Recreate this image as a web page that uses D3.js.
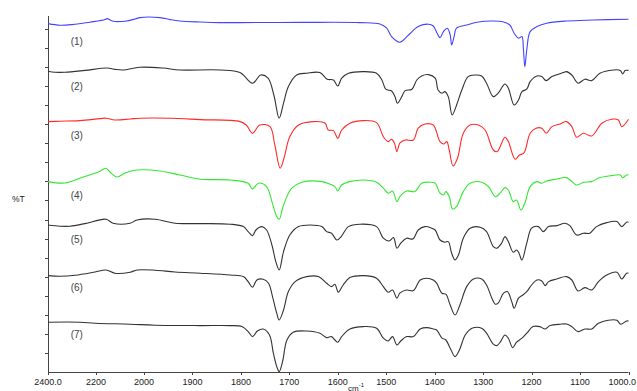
<!DOCTYPE html>
<html>
<head>
<meta charset="utf-8">
<script src="https://cdn.jsdelivr.net/npm/d3@7"></script>
<style>
  body { margin: 0; background: #fff; }
  svg { display: block; font-family: "Liberation Sans", Arial, sans-serif; }
</style>
</head>
<body>
<svg id="chart" width="637" height="391"></svg>
<script>
// wavenumber (cm-1), %T (stacked, arbitrary offset units)
const spectrum1 = [[2400,174.2],[2350,173.4],[2300,173.7],[2225,174.9],[2162,176.2],[2154,176.7],[2129,175.4],[2079,175.4],[2037,176.5],[2017,177.2],[1967,177.2],[1946,176.2],[1926,175.5],[1884,175],[1843,174.7],[1802,174.7],[1678,174.8],[1554,174.7],[1513,174],[1499,171.9],[1489,167.7],[1472,164.9],[1454,168.5],[1434,172.7],[1413,173.9],[1403,173],[1395,169.4],[1389,167.2],[1382,170.2],[1374,171.9],[1368,168.5],[1365,163.5],[1360,167.7],[1355,171.9],[1334,173.5],[1313,174.9],[1279,175.5],[1258,175],[1245,173.5],[1236,169.4],[1227,166.9],[1220,167.7],[1217,161.9],[1214,152.7],[1210,161],[1203,170.2],[1189,172.7],[1169,174.4],[1128,175.5],[1073,176],[1000,176.4]];
const spectrum2 = [[2400,150.4],[2371,149.9],[2329,149.9],[2246,150.8],[2154,152],[2121,151.3],[2087,151],[2017,152.4],[1961,152],[1926,151],[1843,151],[1802,149.7],[1776,144.4],[1759,148.5],[1744,146.9],[1732,138.5],[1721,126.9],[1712,134.4],[1702,142.7],[1685,148.5],[1664,149.4],[1637,149.7],[1622,146.4],[1609,146],[1600,143],[1592,146.9],[1578,149.4],[1547,150.2],[1520,149.4],[1509,146],[1501,141.4],[1489,140.5],[1482,137.7],[1477,134.4],[1468,137.7],[1461,140.7],[1447,141.4],[1437,146],[1427,148],[1413,148.7],[1399,146.9],[1393,141],[1385,139.4],[1379,140.2],[1372,137.7],[1364,128.5],[1356,132.7],[1344,141],[1331,147.7],[1317,148.5],[1303,148],[1293,144.4],[1279,137.7],[1269,139.4],[1255,144],[1248,141.9],[1236,133.5],[1227,136],[1220,140.2],[1210,141.4],[1203,145.2],[1189,148],[1179,147.7],[1170,145.7],[1158,147.7],[1134,149.7],[1128,150.2],[1117,148.5],[1104,144.4],[1090,146.4],[1076,145.7],[1059,149.4],[1031,151],[1017,150.8],[1012,149],[1007,150.7],[1000,150.8]];
const spectrum3 = [[2400,125.2],[2350,125.4],[2267,125.7],[2183,126.7],[2158,126.9],[2121,126],[2058,126.5],[2017,126.9],[1946,126.9],[1884,126.2],[1802,125.2],[1789,123.5],[1776,119.4],[1761,123.5],[1740,122.7],[1730,113.5],[1719,101.9],[1711,107],[1699,117.7],[1681,123.5],[1651,125.2],[1626,124.4],[1620,121],[1609,120.7],[1600,116.9],[1592,121],[1575,124.4],[1547,125.7],[1520,124.7],[1506,117.7],[1496,115.2],[1489,116.4],[1483,114.4],[1478,110.2],[1472,114.4],[1461,116],[1444,116],[1434,121.9],[1420,124],[1403,123.5],[1389,115.2],[1381,114],[1375,115.2],[1370,111],[1362,103],[1353,106.9],[1341,119.4],[1327,123.5],[1310,123.5],[1296,121],[1279,111],[1271,110.2],[1255,117.4],[1248,115.2],[1234,106.4],[1225,108.5],[1216,109.4],[1203,119.4],[1191,121.9],[1179,121.9],[1170,119.4],[1158,122.7],[1141,124],[1128,125.2],[1117,122.7],[1107,117.4],[1093,119.4],[1076,118],[1055,124.4],[1035,126.4],[1021,126],[1014,122.7],[1000,126.4]];
const spectrum4 = [[2400,95.2],[2329,94.5],[2267,96.9],[2183,100.4],[2158,101.9],[2142,100],[2112,97.5],[2079,99.5],[2029,101],[1967,100.5],[1926,98.5],[1884,96.4],[1822,96],[1785,94.4],[1776,91.5],[1764,94.4],[1747,92.7],[1736,85.2],[1726,77.7],[1721,76.4],[1712,83.5],[1695,91.9],[1674,94.9],[1633,95.2],[1616,93.9],[1606,92.7],[1600,90.5],[1592,93.5],[1575,95.2],[1547,96],[1520,94.9],[1506,91.9],[1496,89.4],[1487,90.5],[1478,85.2],[1472,87.7],[1458,90.5],[1441,90.2],[1427,94.4],[1410,94.9],[1399,94.4],[1389,89.4],[1382,88.5],[1377,90.2],[1370,87.7],[1363,81.4],[1355,82.7],[1341,90.2],[1327,94.4],[1303,94.9],[1289,92.7],[1275,87.7],[1265,89.4],[1255,92.2],[1248,91],[1238,85.2],[1231,86],[1222,81],[1214,84.4],[1203,92.7],[1189,95.2],[1179,94.4],[1169,95.5],[1148,96.5],[1128,97.2],[1107,93.5],[1093,94.9],[1076,95.2],[1059,97.2],[1035,98.2],[1017,98.5],[1012,97.2],[1004,98.5],[1000,98.5]];
const spectrum5 = [[2400,73.5],[2350,72.9],[2308,72.9],[2246,74.2],[2158,76.4],[2129,74.4],[2058,74.4],[2029,76],[1977,76.4],[1936,74.4],[1884,74.2],[1822,73.9],[1795,72.7],[1785,70.2],[1776,68.2],[1769,71],[1757,72.7],[1747,71],[1736,63.5],[1728,55.2],[1721,51],[1712,60.2],[1699,68.5],[1681,72.7],[1657,73.5],[1633,72.7],[1623,70.2],[1613,69.4],[1602,66],[1593,67.7],[1578,72.7],[1554,73.9],[1520,72.7],[1506,66.9],[1494,65.5],[1485,67.2],[1478,61.9],[1470,64.4],[1458,66.9],[1445,66.5],[1434,71],[1420,72.7],[1406,71.9],[1399,71],[1389,66],[1379,64.9],[1372,65.2],[1365,59.4],[1358,56],[1351,58.5],[1341,66.9],[1327,71.9],[1306,72.4],[1293,70.2],[1279,62.7],[1272,61.9],[1262,64.4],[1255,67.7],[1248,65.2],[1238,59.9],[1231,61],[1226,59.4],[1220,56],[1210,64.4],[1200,71.9],[1186,72.7],[1176,70.2],[1165,72.7],[1148,73.2],[1131,74.4],[1121,73.2],[1107,68.5],[1093,69.4],[1080,69.4],[1066,72.7],[1045,74.7],[1024,75.2],[1014,72.7],[1004,74.9],[1000,74.9]];
const spectrum6 = [[2400,48.2],[2350,47.9],[2287,48.4],[2204,50],[2158,51],[2121,49.4],[2058,49.9],[2029,51],[1977,50.9],[1936,50],[1884,49.4],[1822,48.5],[1795,47.7],[1785,45.2],[1776,42.4],[1767,46],[1754,46.4],[1743,44.4],[1734,36.9],[1726,29.4],[1721,26],[1712,31],[1702,40.2],[1688,45.2],[1664,47.7],[1640,47.7],[1623,44.4],[1613,42.7],[1606,43.9],[1599,39.9],[1589,43.5],[1575,47.2],[1547,48.2],[1520,46.9],[1506,42.7],[1496,39.9],[1487,41],[1478,36.9],[1472,39.4],[1458,41],[1444,40.7],[1430,46],[1416,46.9],[1403,46],[1396,44.4],[1385,39.4],[1377,38.9],[1368,33.5],[1358,28.5],[1348,33.5],[1334,42.7],[1320,46.5],[1303,46.5],[1293,43.5],[1282,36.9],[1275,33.9],[1269,34.4],[1258,39.4],[1250,40.2],[1241,35.2],[1236,31.9],[1227,36.9],[1218,38.5],[1210,40.2],[1200,43.5],[1189,46],[1179,45.5],[1172,43.2],[1165,45.2],[1148,46.5],[1128,47.7],[1117,46],[1104,40.5],[1090,42.2],[1076,41],[1062,45.2],[1045,48.5],[1024,49.9],[1014,46.5],[1004,49.4],[1000,49.4]];
const spectrum7 = [[2400,24.9],[2267,24.9],[2204,24.4],[2058,23.9],[1977,23.4],[1884,23.2],[1822,23.2],[1798,22.7],[1785,20.2],[1776,17.7],[1766,20.5],[1754,21.5],[1741,18.5],[1733,9.4],[1726,2.7],[1721,0.2],[1714,5.2],[1705,16],[1692,19.9],[1664,20.5],[1637,19.4],[1623,17.2],[1613,17.7],[1606,16],[1600,14.9],[1592,17.7],[1575,21.5],[1547,22.7],[1520,21.9],[1506,16.9],[1496,15.5],[1487,17.7],[1478,13.5],[1470,15.5],[1458,17.7],[1444,17.7],[1430,21.5],[1416,22.2],[1403,21.5],[1396,21],[1385,16.9],[1377,16],[1368,11.9],[1358,7.7],[1349,11],[1337,18.5],[1323,21.9],[1303,21.9],[1293,19.4],[1279,13.9],[1272,13.2],[1264,15.2],[1255,18.5],[1248,16.9],[1239,12.2],[1231,14.9],[1220,16.9],[1210,19.4],[1197,22.7],[1183,22.7],[1172,21.5],[1162,23.2],[1141,23.9],[1128,24],[1117,22.7],[1104,20.2],[1090,21.5],[1076,21.5],[1062,24.4],[1042,25.9],[1024,25.9],[1016,23.9],[1004,25.5],[1000,25.5]];

const spectra = [spectrum1, spectrum2, spectrum3, spectrum4, spectrum5, spectrum6, spectrum7];
const sampleNames = ['(1)', '(2)', '(3)', '(4)', '(5)', '(6)', '(7)'];
const xTickValues = [2400, 2200, 2000, 1900, 1800, 1700, 1600, 1500, 1400, 1300, 1200, 1100, 1000];
const xTickLabels = ['2400.0', '2200', '2000', '1900', '1800', '1700', '1600', '1500', '1400', '1300', '1200', '1100', '1000.0'];

// layout
const colors = ['#4444ff', '#333333', '#ff2a2a', '#33e833', '#333333', '#333333', '#333333'];
const labelY = [163.7, 141.2, 116.7, 86.7, 64.7, 40.7, 17.2];
const labelWn = 2280;
const yTickStep = 9.53;

const svg = d3.select('#chart');
const m = { left: 48, right: 628.5, top: 16, bottom: 372 };

// instrument scale changes at 2000 cm-1
const x = d3.scaleLinear().domain([2400, 2000, 1000]).range([m.left, 144, m.right]);
const y = d3.scaleLinear().domain([0, 178]).range([m.bottom, m.top]);

// axes
const axisColor = '#444';
svg.append('line').attr('x1', m.left + 0.5).attr('x2', m.left + 0.5).attr('y1', m.top).attr('y2', m.bottom)
  .attr('stroke', axisColor).attr('stroke-width', 1);
svg.append('line').attr('x1', m.left).attr('x2', m.right).attr('y1', m.bottom + 0.5).attr('y2', m.bottom + 0.5)
  .attr('stroke', axisColor).attr('stroke-width', 1);

svg.selectAll('.ytick')
  .data(d3.range(yTickStep, 178, yTickStep))
  .enter().append('line')
  .attr('class', 'ytick')
  .attr('x1', m.left - 3).attr('x2', m.left)
  .attr('y1', d => Math.round(y(d)) + 0.5).attr('y2', d => Math.round(y(d)) + 0.5)
  .attr('stroke', axisColor);

svg.selectAll('.xtick')
  .data(xTickValues)
  .enter().append('line')
  .attr('class', 'xtick')
  .attr('x1', d => Math.round(x(d)) + 0.5).attr('x2', d => Math.round(x(d)) + 0.5)
  .attr('y1', m.bottom).attr('y2', m.bottom + 3)
  .attr('stroke', axisColor);

svg.selectAll('.xlabel')
  .data(xTickValues)
  .enter().append('text')
  .attr('class', 'xlabel')
  .attr('x', (d, i) => i === xTickValues.length - 1 ? 636 : x(d))
  .attr('y', 385)
  .attr('text-anchor', (d, i) => i === xTickValues.length - 1 ? 'end' : 'middle')
  .attr('font-size', 9)
  .attr('fill', '#222')
  .text((d, i) => xTickLabels[i]);

const unit = svg.append('text').attr('x', 348).attr('y', 390.5).attr('font-size', 8).attr('fill', '#222');
unit.append('tspan').text('cm');
unit.append('tspan').attr('dy', -3.5).attr('font-size', 6).text('-1');

svg.append('text')
  .attr('x', 12).attr('y', 202)
  .attr('font-size', 8.5)
  .attr('fill', '#222')
  .text('%T');

// traces
const line = d3.line()
  .x(d => x(d[0]))
  .y(d => y(d[1]))
  .curve(d3.curveCatmullRom.alpha(0.5));

svg.selectAll('.trace')
  .data(spectra)
  .enter().append('path')
  .attr('class', 'trace')
  .attr('d', line)
  .attr('fill', 'none')
  .attr('stroke', (d, i) => colors[i])
  .attr('stroke-width', 1.1)
  .attr('stroke-linejoin', 'round');

svg.selectAll('.name')
  .data(sampleNames)
  .enter().append('text')
  .attr('class', 'name')
  .attr('x', x(labelWn))
  .attr('y', (d, i) => y(labelY[i]))
  .attr('text-anchor', 'middle')
  .attr('font-size', 10)
  .attr('fill', '#444')
  .text(d => d);
</script>
</body>
</html>
